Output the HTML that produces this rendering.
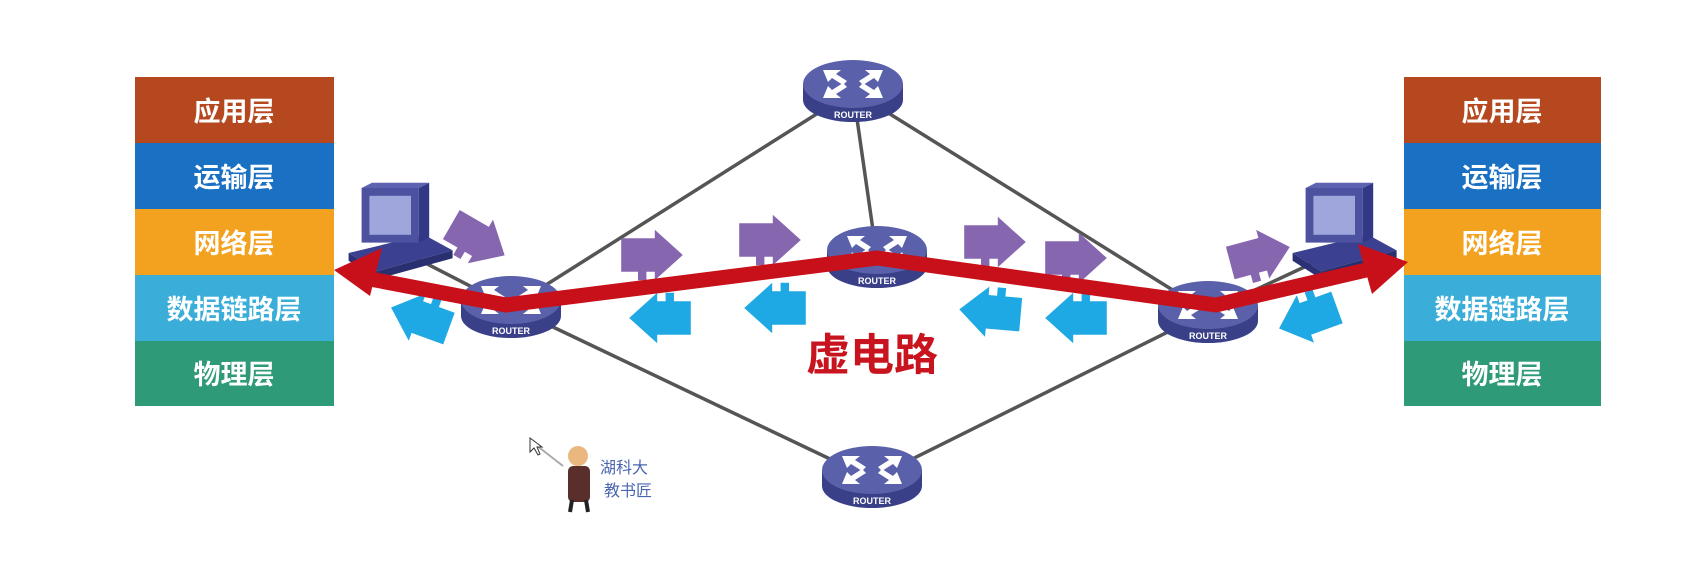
<!DOCTYPE html>
<html><head><meta charset="utf-8"><style>
html,body{margin:0;padding:0;background:#fff;}
svg{display:block;}
</style></head><body>
<svg width="1687" height="565" viewBox="0 0 1687 565" xmlns="http://www.w3.org/2000/svg" font-family="Liberation Sans, Noto Sans CJK SC, sans-serif">
<defs>
<g id="router">
  <path d="M-50,0 L-50,16 A50,22 0 0 0 50,16 L50,0 Z" fill="#3a4088"/>
  <ellipse cx="0" cy="0" rx="50" ry="24" fill="#5a61aa"/>
  <g fill="#fff">
    <polygon points="-30,-14 -12,-14 -17,-10 -6,-3 -10,1 -21,-6 -25,-2"/>
    <polygon points="30,-14 12,-14 17,-10 6,-3 10,1 21,-6 25,-2"/>
    <polygon points="-30,14 -12,14 -17,10 -6,3 -10,-1 -21,6 -25,2"/>
    <polygon points="30,14 12,14 17,10 6,3 10,-1 21,6 25,2"/>
  </g>
  <text x="0" y="34" text-anchor="middle" font-size="9" font-weight="bold" fill="#fff">ROUTER</text>
</g>
<g id="pc">
  <polygon points="-38,10 20,-4 42,8 -16,24" fill="#3b4190"/>
  <polygon points="-38,10 -16,24 -16,30 -38,16" fill="#2c3175"/>
  <polygon points="-16,24 42,8 42,14 -16,30" fill="#2a2f70"/>
  <rect x="-28" y="-40" width="44" height="42" fill="#4c52a0"/>
  <rect x="-22" y="-34" width="32" height="30" fill="#9ea6dc"/>
  <polygon points="16,-40 24,-44 24,-2 16,2" fill="#323886"/>
  <polygon points="-28,-40 -20,-44 24,-44 16,-40" fill="#5d63b0"/>
</g>
<g id="pz">
  <polygon points="-22,-12 2,-12 2,-18 22,0 2,18 2,12 -4,12 -4,18 -10,18 -10,12 -22,12"/>
</g>
</defs>

<g stroke="#555" stroke-width="3.5" fill="none">
  <line x1="511" y1="307" x2="853" y2="91"/>
  <line x1="511" y1="307" x2="872" y2="479"/>
  <line x1="1208" y1="312" x2="853" y2="91"/>
  <line x1="1208" y1="312" x2="872" y2="479"/>
  <line x1="853" y1="91" x2="877" y2="258"/>
  <line x1="511" y1="307" x2="400" y2="250"/>
  <line x1="1208" y1="312" x2="1330" y2="255"/>
</g>

<g font-size="27" font-weight="bold" fill="#fff" text-anchor="middle">
  <rect x="135" y="77" width="199" height="66" fill="#b5481e"/>
  <rect x="135" y="143" width="199" height="66" fill="#1a70c2"/>
  <rect x="135" y="209" width="199" height="66" fill="#f2a21f"/>
  <rect x="135" y="275" width="199" height="66" fill="#3aaed8"/>
  <rect x="135" y="341" width="199" height="65" fill="#2e9a77"/>
  <text x="234" y="121">应用层</text>
  <text x="234" y="187">运输层</text>
  <text x="234" y="253">网络层</text>
  <text x="234" y="319">数据链路层</text>
  <text x="234" y="384">物理层</text>
  <rect x="1404" y="77" width="197" height="66" fill="#b5481e"/>
  <rect x="1404" y="143" width="197" height="66" fill="#1a70c2"/>
  <rect x="1404" y="209" width="197" height="66" fill="#f2a21f"/>
  <rect x="1404" y="275" width="197" height="66" fill="#3aaed8"/>
  <rect x="1404" y="341" width="197" height="65" fill="#2e9a77"/>
  <text x="1502" y="121">应用层</text>
  <text x="1502" y="187">运输层</text>
  <text x="1502" y="253">网络层</text>
  <text x="1502" y="319">数据链路层</text>
  <text x="1502" y="384">物理层</text>
</g>

<g fill="#8766b0">
  <use href="#pz" transform="translate(478,240) rotate(30) scale(1.4)"/>
  <use href="#pz" transform="translate(652,255) scale(1.4)"/>
  <use href="#pz" transform="translate(770,240) scale(1.4)"/>
  <use href="#pz" transform="translate(995,242) scale(1.4)"/>
  <use href="#pz" transform="translate(1076,258) scale(1.4)"/>
  <use href="#pz" transform="translate(1260,255) rotate(-15) scale(1.4)"/>
</g>
<g fill="#1fa9e4">
  <use href="#pz" transform="translate(420,318) rotate(200) scale(1.4)"/>
  <use href="#pz" transform="translate(660,318) rotate(180) scale(1.4)"/>
  <use href="#pz" transform="translate(775,308) rotate(180) scale(1.4)"/>
  <use href="#pz" transform="translate(990,312) rotate(185) scale(1.4)"/>
  <use href="#pz" transform="translate(1076,318) rotate(180) scale(1.4)"/>
  <use href="#pz" transform="translate(1308,318) rotate(160) scale(1.4)"/>
</g>

<use href="#pc" transform="translate(398,240) scale(1.3)"/>
<use href="#pc" transform="translate(1342,240) scale(1.3)"/>
<use href="#router" transform="translate(853,84)"/>
<use href="#router" transform="translate(877,250)"/>
<use href="#router" transform="translate(872,470)"/>
<use href="#router" transform="translate(511,300)"/>
<use href="#router" transform="translate(1208,305)"/>

<polyline points="365,278 506,305 877,258 1216,305 1375,268" fill="none" stroke="#c8101a" stroke-width="15" stroke-linejoin="round"/>
<polygon points="334,270 382,248 370,296" fill="#c8101a"/>
<polygon points="1408,262 1358,244 1372,294" fill="#c8101a"/>

<text x="872" y="370" text-anchor="middle" font-size="44" font-weight="bold" fill="#c8141e">虚电路</text>

<line x1="536" y1="445" x2="563" y2="466" stroke="#aaa" stroke-width="2"/>
<polygon points="530,438 530,452 534,448 538,455 540,454 537,447 542,447" fill="#fff" stroke="#333" stroke-width="1"/>
<circle cx="578" cy="456" r="10" fill="#e9b77f"/>
<rect x="568" y="466" width="22" height="36" rx="5" fill="#5a2e2a"/>
<line x1="572" y1="500" x2="570" y2="512" stroke="#222" stroke-width="4"/>
<line x1="586" y1="500" x2="588" y2="512" stroke="#222" stroke-width="4"/>
<g font-size="16" fill="#4a66b0">
  <text x="600" y="473">湖科大</text>
  <text x="604" y="496">教书匠</text>
</g>
</svg>
</body></html>
